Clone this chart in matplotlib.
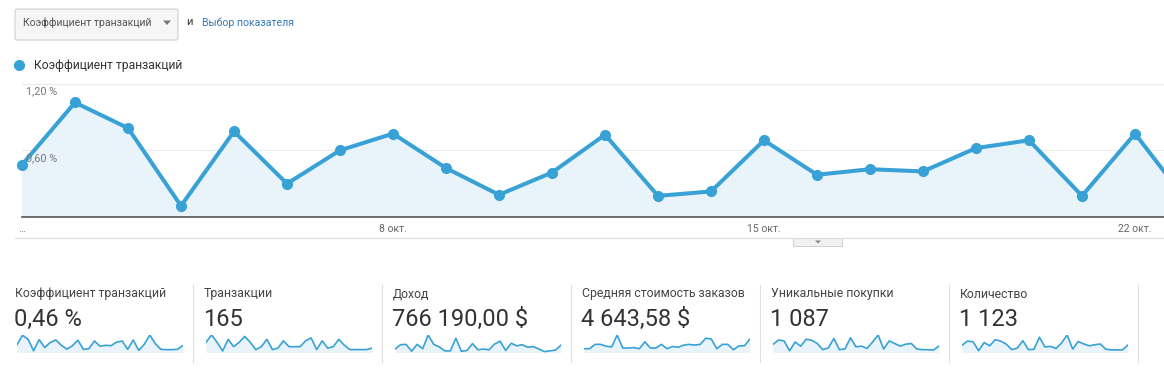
import numpy as np
import matplotlib
matplotlib.use("Agg")
import matplotlib.pyplot as plt
import matplotlib.transforms as mtransforms
from matplotlib.patches import FancyBboxPatch, Rectangle, Polygon

plt.rcParams['font.family'] = ['Roboto', 'DejaVu Sans']

# daily data, 1-31 oct
days = np.arange(1, 32)
conv_rate = [0.47, 1.03, 0.80, 0.10, 0.77, 0.30, 0.60, 0.75, 0.44, 0.20,
             0.40, 0.74, 0.19, 0.23, 0.69, 0.38, 0.43, 0.41, 0.62, 0.69,
             0.19, 0.75, 0.13, 0.49, 1.05, 0.53, 0.19, 0.17, 0.17, 0.19, 0.42]
transactions = [7, 12, 7, 1, 9, 4, 7, 11, 7, 2, 4, 9, 2, 3, 8, 4, 4, 4, 8, 10,
                2, 8, 3, 4, 9, 5, 2, 2, 2, 2, 3]
revenue = [15.1, 34.1, 35.7, 5.5, 35.7, 16.6, 76.9, 35.7, 24.6, 7.1, 7.1, 62.6,
           5.5, 8.7, 38.8, 11.9, 15.1, 11.9, 37.2, 49.9, 8.7, 40.4, 29.3, 34.1,
           23.0, 26.1, 15.1, 4.0, 7.1, 10.3, 32.5]
avg_order = [2761, 2761, 5918, 5918, 4603, 4077, 12756, 3288, 3288, 3551, 2761,
             7759, 3288, 3288, 5918, 2761, 4340, 3814, 5392, 5918, 5392, 5918,
             10389, 9863, 2761, 5918, 5918, 1973, 4866, 4866, 9863]
unique_purchases = [37, 57, 53, 8, 48, 29, 61, 56, 41, 13, 21, 64, 13, 16, 67, 26,
                    29, 19, 48, 80, 16, 53, 41, 29, 38, 41, 16, 13, 13, 11, 30]
quantity = [36, 56, 53, 9, 49, 33, 63, 56, 41, 14, 22, 58, 14, 16, 75, 27, 30,
            20, 47, 86, 17, 54, 42, 33, 38, 42, 16, 13, 13, 13, 37]

metric_name = 'Коэффициент транзакций'
xtick_days = [1, 8, 15, 22]
xtick_labels = ['…', '8 окт.', '15 окт.', '22 окт.']
ytick_vals = [0.6, 1.2]
ytick_labels = ['0,60 %', '1,20 %']

card_titles = ['Коэффициент транзакций', 'Транзакции', 'Доход',
               'Средняя стоимость заказов', 'Уникальные покупки', 'Количество']
card_values = ['0,46 %', '165', '766 190,00 $', '4 643,58 $', '1 087', '1 123']
card_series = [conv_rate, transactions, revenue, avg_order, unique_purchases, quantity]

BLUE = '#38a1d5'
FILL = '#e8f3fa'
W, H = 1164, 374

fig = plt.figure(figsize=(W / 100, H / 100), dpi=100)


def px_axes(l, t, r, b):
    return fig.add_axes([l / W, 1 - b / H, (r - l) / W, (b - t) / H])


# overlay in pixel coords for the page furniture
ov = fig.add_axes([0, 0, 1, 1])
ov.set_xlim(0, W)
ov.set_ylim(H, 0)
ov.axis('off')

# metric dropdown
ov.add_patch(FancyBboxPatch((15, 9), 163, 31, boxstyle='round,pad=0,rounding_size=2',
                            fc='#f6f6f6', ec='#cfcfcf', lw=0.8))
ov.text(23, 23, metric_name, fontsize=7.6, color='#555', va='center')
ov.add_patch(Polygon([(163, 20.5), (171, 20.5), (167, 25)], closed=True, fc='#777', ec='none'))
ov.text(186, 22, 'и', fontsize=8, color='#333', va='center')
ov.text(202, 23, 'Выбор показателя', fontsize=7.6, color='#3579b8', va='center')

# legend
ov.plot([18.5], [65], 'o', ms=7, color=BLUE)
ov.text(34, 65, metric_name, fontsize=8.7, color='#333', va='center')

# lower rules and toggle tab
ov.plot([15, W], [238, 238], color='#dcdcdc', lw=0.8)
ov.add_patch(Rectangle((793, 238), 49, 8, fc='#f1f1f1', ec='#cfcfcf', lw=0.7))
ov.add_patch(Polygon([(815, 240.5), (821, 240.5), (818, 243.5)], closed=True, fc='#888', ec='none'))

# main chart
ax = px_axes(22, 83.6, W, 217)
ax.fill_between(days, conv_rate, 0, color=FILL, lw=0, clip_on=False)
ax.plot(days, conv_rate, '-o', color=BLUE, lw=2.9, ms=7, clip_on=False, zorder=3)
for v in ytick_vals:
    ax.axhline(v, color='#ebebeb', lw=0.8, clip_on=False, zorder=0)
ax.set_xlim(1, 1 + (W - 22) / 53.0)
ax.set_ylim(0, 1.2)
for s in ['top', 'left', 'right']:
    ax.spines[s].set_visible(False)
ax.spines['bottom'].set_color('#555')
ax.spines['bottom'].set_linewidth(1.2)
ax.set_yticks([])
ax.set_xticks(xtick_days)
ax.set_xticklabels(xtick_labels)
ax.tick_params(axis='x', length=0, pad=5, labelsize=7.5, labelcolor='#666')
ax.patch.set_alpha(0)
lab_tr = mtransforms.offset_copy(ax.transData, fig=fig, x=3, y=-2, units='points')
for v, lab in zip(ytick_vals, ytick_labels):
    ax.text(1, v, lab, transform=lab_tr, fontsize=7.8, color='#777', va='top', ha='left', zorder=4)

# summary cards with sparklines
for i, (title, value, series) in enumerate(zip(card_titles, card_values, card_series)):
    x0 = 15 + 189 * i
    ov.text(x0, 294, title, fontsize=8.8, color='#444', va='center')
    ov.text(x0 - 1, 319, value, fontsize=17, color='#333', va='center')
    ov.plot([x0 + 178, x0 + 178], [285, 362], color='#e0e0e0', lw=0.8)
    sp = px_axes(x0 + 2, 335, x0 + 168, 352.5)
    sp.fill_between(days, series, 0, color=FILL, lw=0)
    sp.plot(days, series, color=BLUE, lw=1.2)
    sp.set_xlim(1, 31)
    sp.set_ylim(0, max(series))
    sp.axis('off')

fig.savefig('out.png', dpi=100)
